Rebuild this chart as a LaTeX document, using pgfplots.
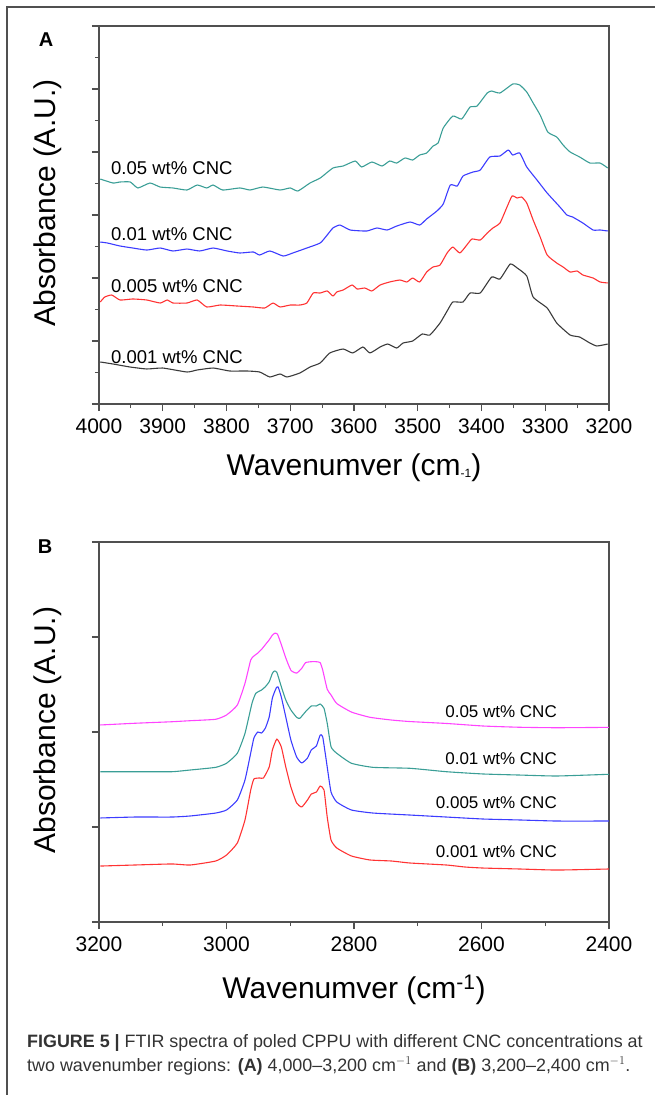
\documentclass[border=0pt]{standalone}
\usepackage{fontspec}
\setmainfont{Liberation Sans}
\usepackage{pgfplots}
\pgfplotsset{compat=1.18}
\definecolor{cTeal}{HTML}{3A9E96}
\definecolor{cBlue}{HTML}{3C3CFF}
\definecolor{cRed}{HTML}{FF3333}
\definecolor{cBlack}{HTML}{3A3A3A}
\definecolor{cMag}{HTML}{FF44FF}
\definecolor{axgray}{HTML}{505050}
\definecolor{capgray}{HTML}{333333}
\pgfplotsset{
 ftir/.style={scale only axis, width=510pt, x dir=reverse,
   tick pos=left, tick align=outside,
   major tick length=7pt, minor tick length=4pt,
   axis line style={axgray, line width=1.2pt},
   tick style={axgray, line width=1.1pt},
   yticklabels={},
   ticklabel style={font=\fontsize{21}{25}\selectfont},
   xticklabel style={yshift=-4pt},
   /pgf/number format/assume math mode=true,
   /pgf/number format/1000 sep={},
   every axis plot/.append style={line width=1.1pt, line join=round, smooth, tension=0.3}},
}
\begin{document}
\begin{tikzpicture}
\path[use as bounding box] (0pt,0pt) rectangle (655pt,-1095pt);
\draw[axgray, line width=1.4pt] (7pt,-1095pt) -- (7pt,-7pt) -- (655pt,-7pt);

% ---------------- Panel A ----------------
\begin{axis}[ftir, at={(99pt,-404pt)}, anchor=south west, height=378pt,
  xmin=3200, xmax=4000, ymin=0, ymax=6,
  xtick={3200,3300,...,4000}, minor x tick num=1,
  ytick={0,1,...,6}, minor y tick num=1]
\addplot[cBlack] coordinates {
(3998,0.667)(3978,0.635)(3951,0.587)(3925,0.556)(3900,0.571)(3862,0.508)(3846,0.540)(3821,0.571)(3795,0.524)(3768,0.524)(3748,0.508)(3732,0.429)(3716,0.476)(3705,0.429)(3685,0.492)(3669,0.587)(3653,0.651)(3638,0.810)(3617,0.873)(3602,0.810)(3586,0.905)(3575,0.810)(3559,0.905)(3547,0.952)(3533,0.889)(3523,0.968)(3508,1.0)(3493,1.111)(3481,1.095)(3465,1.286)(3453,1.492)(3445,1.619)(3429,1.619)(3418,1.762)(3402,1.762)(3384,2.016)(3371,1.984)(3355,2.222)(3344,2.159)(3329,2.032)(3319,1.698)(3297,1.524)(3282,1.286)(3261,1.095)(3246,1.063)(3230,0.968)(3219,0.921)(3202,0.952)};
\addplot[cRed] coordinates {
(3998,1.619)(3991,1.698)(3980,1.730)(3967,1.651)(3947,1.667)(3925,1.651)(3904,1.603)(3893,1.651)(3884,1.603)(3862,1.603)(3846,1.651)(3831,1.540)(3810,1.571)(3784,1.556)(3758,1.540)(3740,1.524)(3727,1.603)(3716,1.540)(3700,1.571)(3685,1.571)(3674,1.603)(3664,1.762)(3653,1.762)(3642,1.794)(3633,1.714)(3627,1.778)(3617,1.810)(3603,1.889)(3595,1.825)(3583,1.841)(3572,1.794)(3559,1.889)(3544,1.937)(3528,1.968)(3517,1.937)(3508,2.0)(3497,1.937)(3486,2.095)(3476,2.175)(3465,2.206)(3454,2.397)(3445,2.492)(3434,2.397)(3423,2.524)(3415,2.619)(3402,2.603)(3391,2.714)(3382,2.794)(3371,2.873)(3360,3.127)(3352,3.302)(3344,3.270)(3337,3.286)(3329,3.190)(3319,2.921)(3308,2.651)(3297,2.365)(3282,2.238)(3272,2.175)(3261,2.095)(3250,2.111)(3241,2.048)(3225,2.0)(3214,1.937)(3202,1.921)};
\addplot[cBlue] coordinates {
(3998,2.571)(3987,2.556)(3967,2.508)(3947,2.476)(3925,2.444)(3904,2.476)(3884,2.429)(3862,2.460)(3842,2.429)(3821,2.476)(3799,2.429)(3779,2.397)(3758,2.413)(3748,2.365)(3732,2.429)(3711,2.349)(3696,2.397)(3674,2.476)(3653,2.556)(3642,2.683)(3633,2.794)(3622,2.841)(3606,2.762)(3580,2.746)(3564,2.794)(3548,2.762)(3533,2.825)(3512,2.889)(3497,2.841)(3486,2.937)(3470,3.063)(3460,3.175)(3449,3.476)(3438,3.460)(3429,3.619)(3413,3.683)(3402,3.714)(3387,3.921)(3371,3.937)(3358,4.032)(3351,3.952)(3340,3.984)(3329,3.762)(3313,3.556)(3297,3.349)(3277,3.127)(3266,3.0)(3257,2.968)(3241,2.873)(3225,2.762)(3214,2.762)(3202,2.746)};
\addplot[cTeal] coordinates {
(3998,3.571)(3978,3.508)(3967,3.524)(3951,3.524)(3939,3.429)(3920,3.508)(3904,3.444)(3884,3.429)(3862,3.397)(3846,3.476)(3831,3.429)(3821,3.476)(3806,3.397)(3779,3.429)(3763,3.397)(3743,3.444)(3716,3.397)(3700,3.429)(3688,3.381)(3669,3.508)(3653,3.587)(3633,3.746)(3617,3.778)(3598,3.857)(3588,3.762)(3572,3.841)(3556,3.778)(3544,3.857)(3533,3.825)(3520,3.905)(3508,3.873)(3497,3.952)(3486,3.984)(3476,4.095)(3468,4.143)(3460,4.381)(3445,4.571)(3431,4.524)(3418,4.714)(3407,4.730)(3391,4.937)(3384,4.968)(3371,4.937)(3351,5.079)(3340,5.063)(3329,4.952)(3319,4.778)(3308,4.587)(3296,4.317)(3282,4.238)(3272,4.111)(3261,4.0)(3246,3.921)(3230,3.825)(3214,3.825)(3202,3.746)};
\end{axis}

\begin{scope}[font=\fontsize{18.5}{22}\selectfont]
\node[anchor=west, inner sep=0] at (111pt,-168pt) {0.05 wt\% CNC};
\node[anchor=west, inner sep=0] at (111pt,-234pt) {0.01 wt\% CNC};
\node[anchor=west, inner sep=0] at (111pt,-286pt) {0.005 wt\% CNC};
\node[anchor=west, inner sep=0] at (111pt,-357pt) {0.001 wt\% CNC};
\end{scope}
\node[font=\fontsize{20}{24}\selectfont\bfseries] at (46pt,-40pt) {A};
\node[rotate=90, font=\fontsize{30}{36}\selectfont] at (48pt,-203pt) {Absorbance (A.U.)};
\node[font=\fontsize{30}{36}\selectfont] at (354pt,-468pt) {Wavenumver (cm{\fontsize{12}{12}\selectfont\raisebox{-2pt}{-1}})};

% ---------------- Panel B ----------------
\begin{axis}[ftir, at={(99pt,-922pt)}, anchor=south west, height=380pt,
  xmin=2400, xmax=3200, ymin=0, ymax=4,
  xtick={2400,2600,...,3200}, minor x tick num=1,
  ytick={0,1,...,4}]
\addplot[cRed] coordinates {
(3198,0.589)(3144,0.600)(3086,0.611)(3057,0.600)(3017,0.642)(3000,0.705)(2983,0.832)(2971,1.074)(2962,1.389)(2957,1.505)(2948,1.516)(2942,1.516)(2933,1.632)(2928,1.811)(2921,1.926)(2914,1.842)(2907,1.632)(2899,1.421)(2890,1.253)(2882,1.211)(2873,1.284)(2867,1.347)(2859,1.368)(2853,1.432)(2847,1.389)(2842,1.105)(2836,0.863)(2827,0.779)(2804,0.695)(2775,0.653)(2741,0.642)(2712,0.621)(2655,0.600)(2626,0.579)(2597,0.568)(2540,0.558)(2482,0.547)(2400,0.558)};
\addplot[cBlue] coordinates {
(3198,1.095)(3144,1.105)(3086,1.105)(3057,1.116)(3017,1.147)(3000,1.179)(2983,1.284)(2971,1.495)(2962,1.779)(2957,1.937)(2951,2.0)(2945,1.989)(2939,2.042)(2933,2.158)(2928,2.358)(2922,2.463)(2919,2.474)(2914,2.368)(2907,2.158)(2899,1.916)(2890,1.737)(2882,1.674)(2873,1.726)(2867,1.811)(2859,1.853)(2853,1.968)(2849,1.947)(2842,1.632)(2836,1.368)(2827,1.263)(2804,1.179)(2770,1.147)(2712,1.126)(2655,1.105)(2597,1.084)(2540,1.074)(2482,1.063)(2400,1.063)};
\addplot[cTeal] coordinates {
(3198,1.582)(3144,1.582)(3086,1.582)(3057,1.600)(3017,1.628)(3000,1.671)(2983,1.776)(2971,1.986)(2960,2.302)(2954,2.407)(2945,2.442)(2939,2.477)(2933,2.529)(2928,2.618)(2925,2.642)(2921,2.628)(2914,2.477)(2907,2.337)(2899,2.232)(2890,2.155)(2885,2.144)(2876,2.214)(2867,2.274)(2859,2.274)(2853,2.295)(2847,2.249)(2842,2.092)(2836,1.845)(2827,1.776)(2804,1.671)(2770,1.628)(2712,1.618)(2655,1.582)(2597,1.558)(2540,1.547)(2482,1.537)(2400,1.555)};
\addplot[cMag] coordinates {
(3198,2.074)(3144,2.092)(3086,2.108)(3057,2.119)(3017,2.134)(3000,2.179)(2983,2.284)(2971,2.513)(2962,2.758)(2957,2.800)(2951,2.830)(2945,2.870)(2939,2.920)(2933,2.970)(2928,3.020)(2924,3.040)(2920,3.030)(2914,2.920)(2907,2.780)(2899,2.650)(2890,2.620)(2882,2.670)(2876,2.730)(2867,2.740)(2859,2.740)(2853,2.730)(2849,2.650)(2842,2.450)(2836,2.390)(2827,2.300)(2804,2.210)(2775,2.155)(2741,2.126)(2712,2.110)(2655,2.090)(2597,2.063)(2540,2.050)(2482,2.045)(2400,2.049)};
\end{axis}

\begin{scope}[font=\fontsize{17}{20}\selectfont]
\node[anchor=east, inner sep=0] at (557pt,-712pt) {0.05 wt\% CNC};
\node[anchor=east, inner sep=0] at (557pt,-759pt) {0.01 wt\% CNC};
\node[anchor=east, inner sep=0] at (557pt,-803pt) {0.005 wt\% CNC};
\node[anchor=east, inner sep=0] at (557pt,-852pt) {0.001 wt\% CNC};
\end{scope}
\node[font=\fontsize{20}{24}\selectfont\bfseries] at (45pt,-547pt) {B};
\node[rotate=90, font=\fontsize{30}{36}\selectfont] at (48pt,-730pt) {Absorbance (A.U.)};
\node[font=\fontsize{30}{36}\selectfont] at (354pt,-990pt) {Wavenumver (cm\textsuperscript{-1})};

% ---------------- Caption ----------------
\begin{scope}[font=\fontsize{17.9}{22}\selectfont, text=capgray]
\node[anchor=west, inner sep=0] at (27pt,-1043pt) {\textbf{FIGURE 5 |} FTIR spectra of poled CPPU with different CNC concentrations at};
\node[anchor=west, inner sep=0] at (27pt,-1066pt) {two wavenumber regions: \textbf{(A)} 4,000--3,200 cm$^{-1}$ and \textbf{(B)} 3,200--2,400 cm$^{-1}$.};
\end{scope}
\end{tikzpicture}
\end{document}
